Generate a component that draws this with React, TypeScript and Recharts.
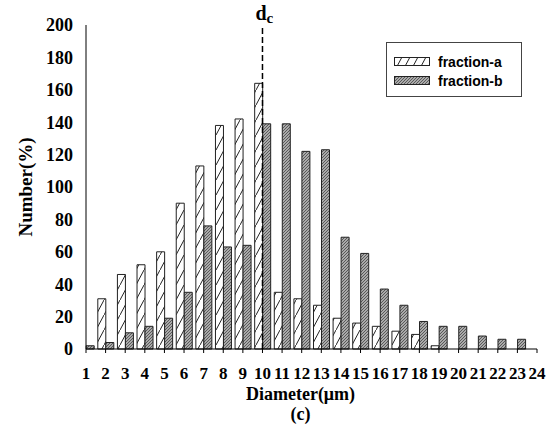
import { BarChart, Bar, XAxis, YAxis, ReferenceLine } from 'recharts';

const diameters = [1, 2, 3, 4, 5, 6, 7, 8, 9, 10, 11, 12, 13, 14, 15, 16, 17, 18, 19, 20, 21, 22, 23];
const fractionA = [0, 31, 46, 52, 60, 90, 113, 138, 142, 164, 35, 31, 27, 19, 16, 14, 11, 9, 2, 0, 0, 0, 0];
const fractionB = [2, 4, 10, 14, 19, 35, 76, 63, 64, 139, 139, 122, 123, 69, 59, 37, 27, 17, 14, 14, 8, 6, 6];
const xTicks = [1, 2, 3, 4, 5, 6, 7, 8, 9, 10, 11, 12, 13, 14, 15, 16, 17, 18, 19, 20, 21, 22, 23, 24];
const yTicks = [0, 20, 40, 60, 80, 100, 120, 140, 160, 180, 200];

const serif = '"Liberation Serif", "Times New Roman", serif';
const sans = '"Liberation Sans", Arial, sans-serif';

const rows = diameters.map((d, i) => ({ d, a: fractionA[i], b: fractionB[i] }));

function LegendBox() {
  const item = (fill: string, text: string) => (
    <div style={{ display: 'flex', alignItems: 'center', height: 19 }}>
      <svg width={36} height={10} style={{ marginRight: 8 }}>
        <rect x={0.5} y={0.5} width={35} height={8} fill={fill} stroke="#222" />
      </svg>
      <span style={{ fontFamily: sans, fontWeight: 'bold', fontSize: 14, color: '#000' }}>{text}</span>
    </div>
  );
  return (
    <div
      style={{
        position: 'absolute',
        left: 386,
        top: 42,
        width: 136,
        height: 55,
        boxSizing: 'border-box',
        border: '1px solid #444',
        background: '#fff',
        padding: '9px 0 0 7px',
      }}
    >
      {item('url(#hatchA)', 'fraction-a')}
      {item('url(#hatchB)', 'fraction-b')}
    </div>
  );
}

function DcLabel(props: any) {
  const { viewBox } = props;
  const x = viewBox.x;
  const y = viewBox.y;
  return (
    <text x={x - 7} y={y - 5} fontFamily={serif} fontWeight="bold" fontSize={20} fill="#000">
      d<tspan fontSize={15} dy={3}>c</tspan>
    </text>
  );
}

function XTitle(props: any) {
  const { viewBox } = props;
  const cx = viewBox.x + viewBox.width / 2;
  return (
    <g fontFamily={serif} fontWeight="bold" fontSize={18} fill="#000" textAnchor="middle">
      <text x={cx - 11} y={400}>Diameter(μm)</text>
      <text x={cx - 11} y={420}>(c)</text>
    </g>
  );
}

export default function App() {
  return (
    <div style={{ position: 'absolute', left: 0, top: 0, width: 550, height: 432, background: '#fff' }}>
      <BarChart
        width={550}
        height={432}
        data={rows}
        margin={{ top: 25, right: 13, bottom: 48, left: 26 }}
        barSize={8}
        barGap={0}
      >
        <defs>
          <pattern id="hatchA" patternUnits="userSpaceOnUse" width={8} height={15}>
            <rect width={8} height={15} fill="#fff" />
            <line x1={0} y1={15} x2={8} y2={0} stroke="#222" strokeWidth={1} />
          </pattern>
          <pattern id="hatchB" patternUnits="userSpaceOnUse" width={3} height={3}>
            <rect width={3} height={3} fill="#aaaaaa" />
            <path d="M-1,1 L1,-1 M0,3 L3,0 M2,4 L4,2" stroke="#444" strokeWidth={0.8} />
          </pattern>
        </defs>
        <XAxis
          dataKey="d"
          type="number"
          domain={[1, 24]}
          ticks={xTicks}
          interval={0}
          allowDecimals={false}
          stroke="#000"
          tickSize={4}
          tickMargin={14}
          height={35}
          tick={{ fontFamily: serif, fontWeight: 'bold', fontSize: 17, fill: '#000' }}
          label={<XTitle />}
        />
        <XAxis
          xAxisId="top"
          orientation="top"
          type="number"
          domain={[1, 24]}
          dataKey="d"
          tick={false}
          tickLine={false}
          height={0}
          stroke="#555"
        />
        <YAxis
          domain={[0, 200]}
          ticks={yTicks}
          interval={0}
          width={60}
          stroke="#000"
          tickLine={false}
          tickSize={0}
          tickMargin={13}
          tick={{ fontFamily: serif, fontWeight: 'bold', fontSize: 18, fill: '#000' }}
          label={{
            value: 'Number(%)',
            angle: -90,
            position: 'insideLeft',
            offset: -1,
            style: { fontFamily: serif, fontWeight: 'bold', fontSize: 19, fill: '#000', textAnchor: 'middle' },
          }}
        />
        <YAxis yAxisId="right" orientation="right" width={0} tick={false} tickLine={false} stroke="#555" />
        <Bar dataKey="a" name="fraction-a" fill="url(#hatchA)" stroke="#222" strokeWidth={1} isAnimationActive={false} />
        <Bar dataKey="b" name="fraction-b" fill="url(#hatchB)" stroke="#222" strokeWidth={1} isAnimationActive={false} />
        <ReferenceLine
          x={10}
          stroke="#000"
          strokeWidth={1.5}
          strokeDasharray="6 3"
          label={<DcLabel />}
        />
      </BarChart>
      <LegendBox />
    </div>
  );
}
